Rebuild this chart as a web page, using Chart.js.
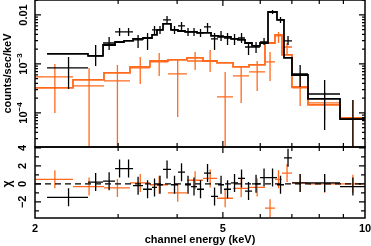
<!DOCTYPE html>
<html>
<head>
<meta charset="utf-8">
<script src="https://cdn.jsdelivr.net/npm/chart.js@4.4.1/dist/chart.umd.min.js"></script>
<style>
  html, body { margin: 0; padding: 0; background: #fff; }
  #wrap { position: relative; width: 371px; height: 246px; }
  #wrap canvas { position: absolute; left: 0; top: 0; }
</style>
</head>
<body>
<div id="wrap">
  <canvas id="spec" width="371" height="246"></canvas>
  <canvas id="resid" width="371" height="246"></canvas>
</div>
<script>
// black spectrum: bin edges (keV), rate (counts/sec/keV), error range, model, residual (chi)
const blackEdges = [2.121, 2.590, 2.787, 2.955, 3.087, 3.226, 3.387, 3.539, 3.626, 3.734, 3.882,
  4.017, 4.157, 4.280, 4.407, 4.560, 4.719, 4.883, 5.028, 5.202, 5.383, 5.570, 5.763, 5.993,
  6.231, 6.510, 6.736, 7.004, 7.573, 8.853, 10.0];
const blackRate = [8.3e-4, 1.46e-3, 2.68e-3, 4.5e-3, 4.5e-3, 3.09e-3, 3.39e-3, 4.94e-3, 4.94e-3, 7.91e-3,
  4.94e-3, 5.97e-3, 4.5e-3, 4.5e-3, 4.29e-3, 5.69e-3, 3.24e-3, 3.73e-3, 3.39e-3, 3.24e-3,
  3.39e-3, 2.22e-3, 2.22e-3, 2.81e-3, 1.15e-2, 7.91e-3, 2.95e-3, 6.25e-4, 2.44e-4, 7.5e-5];
const blackRateHi = [1.39e-3, 2.44e-3, 3.56e-3, 5.43e-3, 5.43e-3, 3.91e-3, 4.29e-3, 5.97e-3, 5.97e-3, 9.54e-3,
  5.97e-3, 7.2e-3, 5.43e-3, 5.43e-3, 5.18e-3, 6.87e-3, 4.29e-3, 4.71e-3, 4.29e-3, 4.09e-3,
  4.29e-3, 2.81e-3, 2.81e-3, 3.39e-3, 1.265e-2, 9.1e-3, 3.73e-3, 9.55e-4, 4.72e-4, 1.84e-4];
const blackRateLo = [3.09e-4, 9.1e-4, 1.93e-3, 3.73e-3, 3.73e-3, 2.12e-3, 1.93e-3, 4.09e-3, 4.09e-3, 6.55e-3,
  4.09e-3, 4.94e-3, 3.73e-3, 3.73e-3, 3.56e-3, 4.5e-3, 1.93e-3, 2.95e-3, 2.44e-3, 2.44e-3,
  2.68e-3, 1.53e-3, 1.68e-3, 2.44e-3, 1.048e-2, 6.87e-3, 2.44e-3, 3.39e-4, 4.5e-5, 1e-5];
const blackModel = [1.6e-3, 1.46e-3, 2.44e-3, 2.81e-3, 2.95e-3, 3.24e-3, 3.39e-3, 3.91e-3, 4.94e-3, 6.55e-3,
  4.94e-3, 4.71e-3, 4.5e-3, 4.5e-3, 4.29e-3, 4.29e-3, 3.73e-3, 3.56e-3, 3.56e-3, 3.24e-3,
  3.09e-3, 2.68e-3, 2.33e-3, 2.68e-3, 1.15e-2, 7.91e-3, 1.33e-3, 5.96e-4, 1.93e-4, 7.5e-5];
const blackChi = [-1.5, 0.2, 0.3, 1.7, 1.7, -0.2, -0.6, -0.4, -0.1, 1.6,
  -0.1, 1.3, -0.1, -0.3, -0.6, 1.2, -1.4, -0.1, -0.6, 0.1,
  0.6, -0.8, 0.0, 0.7, 0.7, -0.1, 2.9, 0.1, 0.1, -0.3];

// orange spectrum
const orangeEdges = [2.0, 2.407, 2.800, 3.179, 3.504, 3.826, 4.197, 4.538, 4.859, 5.253,
  5.680, 6.140, 6.447, 6.671, 7.004, 7.573, 8.853, 10.0];
const orangeRate = [5.43e-4, 3.56e-4, 4.5e-4, 8.29e-4, 1.1e-3, 6.25e-4, 1.15e-3, 1.15e-3, 2.12e-4,
  5.69e-4, 6.87e-4, 1.1e-3, 3.73e-3, 2.22e-3, 3.24e-4, 1.6e-4, 7.9e-5];
const orangeRateHi = [1.0e-3, 8.29e-4, 9.55e-4, 1.39e-3, 1.68e-3, 1.21e-3, 1.76e-3, 1.93e-3, 6.87e-4,
  9.1e-4, 1.15e-3, 1.76e-3, 4.5e-3, 2.68e-3, 5.69e-4, 2.68e-4, 1.84e-4];
const orangeRateLo = [1.0e-4, 1e-5, 1e-5, 3.91e-4, 5.69e-4, 8.3e-5, 7.54e-4, 6.87e-4, 1e-5,
  1.6e-4, 2.81e-4, 4.5e-4, 2.68e-3, 1.53e-3, 1.39e-4, 7.2e-5, 1e-5];
const orangeModel = [3.24e-4, 4.72e-4, 6.55e-4, 8.69e-4, 1.15e-3, 1.21e-3, 1.33e-3, 1.15e-3, 1.05e-3,
  8.69e-4, 9.55e-4, 2.68e-3, 3.91e-3, 1.53e-3, 3.39e-4, 1.46e-4, 7.9e-5];
const orangeChi = [0.5, -0.3, -0.45, 0.1, -0.1, -1.0, 0.4, 0.6, -1.6, -0.5, -0.4, -2.7, 0.5, 1.2, 0.1, 0.0, 0.0];

const chiErr = 1;

// axes
const xRange = [2, 10];
const xTickValues = [2, 5, 10];
const xTickLabels = ['2', '5', '10'];
const rateRange = [2.02e-5, 2.02e-2];
const rateTickValues = [1e-2, 1e-3, 1e-4];
const rateTickLabels = [['0.01', ''], ['10', '\u22123'], ['10', '\u22124']];
const chiRange = [-3.8, 4.1];
const chiTickValues = [4, 2, 0, -2];
const chiTickLabels = ['4', '2', '0', '\u22122'];

const BLACK = '#000000';
const ORANGE = '#ff6a1c';
const FONT = '"Liberation Sans", Arial, Helvetica, sans-serif';

// error crosses: horizontal bar over the bin, vertical bar at bin centre
function crossPoints(edges, y, lo, hi) {
  const pts = [];
  for (let i = 0; i < y.length; i++) {
    const c = (edges[i] + edges[i + 1]) / 2;
    pts.push({x: edges[i], y: y[i]}, {x: edges[i + 1], y: y[i]}, {x: c, y: null});
    pts.push({x: c, y: lo[i]}, {x: c, y: hi[i]}, {x: c, y: null});
  }
  return pts;
}

// histogram style model
function stepPoints(edges, y) {
  const pts = y.map((v, i) => ({x: edges[i], y: v}));
  pts.push({x: edges[edges.length - 1], y: y[y.length - 1]});
  return pts;
}

function vText(ctx, text, x, y) {
  ctx.save();
  ctx.translate(x, y);
  ctx.rotate(-Math.PI / 2);
  ctx.textAlign = 'center';
  ctx.textBaseline = 'middle';
  ctx.fillText(text, 0, 0);
  ctx.restore();
}

// rotated label with optional superscript
function vPow(ctx, base, exp, x, y) {
  ctx.save();
  ctx.translate(x, y);
  ctx.rotate(-Math.PI / 2);
  ctx.textBaseline = 'alphabetic';
  ctx.textAlign = 'left';
  ctx.font = 'bold 11px ' + FONT;
  const wb = ctx.measureText(base).width;
  ctx.font = 'bold 8px ' + FONT;
  const we = exp ? ctx.measureText(exp).width : 0;
  const x0 = -(wb + we) / 2;
  ctx.font = 'bold 11px ' + FONT;
  ctx.fillText(base, x0, 4);
  if (exp) {
    ctx.font = 'bold 8px ' + FONT;
    ctx.fillText(exp, x0 + wb, -1);
  }
  ctx.restore();
}

function xTicks(ctx, x, a) {
  for (let e = 3; e <= 9; e++) {
    const px = x.getPixelForValue(e);
    const len = e === 5 ? 6 : 4;
    ctx.moveTo(px, a.top); ctx.lineTo(px, a.top + len);
    ctx.moveTo(px, a.bottom); ctx.lineTo(px, a.bottom - len);
  }
}

const specAxes = {
  id: 'specAxes',
  afterDraw(chart) {
    const {ctx, chartArea: a, scales: {x, y}} = chart;
    ctx.save();
    ctx.strokeStyle = BLACK;
    ctx.lineWidth = 1.2;
    ctx.beginPath();
    xTicks(ctx, x, a);
    for (let d = -5; d <= -2; d++) {
      for (let k = 1; k <= 9; k++) {
        const v = k * Math.pow(10, d);
        if (v < rateRange[0] || v > rateRange[1]) continue;
        const py = y.getPixelForValue(v);
        const len = k === 1 ? 6 : 3;
        ctx.moveTo(a.left, py); ctx.lineTo(a.left + len, py);
        ctx.moveTo(a.right, py); ctx.lineTo(a.right - len, py);
      }
    }
    ctx.stroke();
    ctx.lineWidth = 1.5;
    ctx.strokeRect(a.left, a.top, a.right - a.left, a.bottom - a.top);
    ctx.fillStyle = BLACK;
    rateTickValues.forEach((v, i) => {
      vPow(ctx, rateTickLabels[i][0], rateTickLabels[i][1], 23, y.getPixelForValue(v));
    });
    ctx.font = 'bold 11px ' + FONT;
    vText(ctx, 'counts/sec/keV', 8, (a.top + a.bottom) / 2);
    ctx.restore();
  }
};

const residAxes = {
  id: 'residAxes',
  afterDraw(chart) {
    const {ctx, chartArea: a, scales: {x, y}} = chart;
    ctx.save();
    ctx.strokeStyle = BLACK;
    ctx.lineWidth = 1.2;
    ctx.beginPath();
    xTicks(ctx, x, a);
    for (let c = -3; c <= 4; c++) {
      const py = y.getPixelForValue(c);
      const len = c % 2 === 0 ? 6 : 4;
      ctx.moveTo(a.left, py); ctx.lineTo(a.left + len, py);
      ctx.moveTo(a.right, py); ctx.lineTo(a.right - len, py);
    }
    ctx.stroke();
    ctx.lineWidth = 1.5;
    ctx.strokeRect(a.left, a.top, a.right - a.left, a.bottom - a.top);
    ctx.fillStyle = BLACK;
    ctx.font = 'bold 11px ' + FONT;
    chiTickValues.forEach((v, i) => vText(ctx, chiTickLabels[i], 23, y.getPixelForValue(v)));
    ctx.textAlign = 'center';
    ctx.textBaseline = 'middle';
    xTickValues.forEach((v, i) => ctx.fillText(xTickLabels[i], x.getPixelForValue(v), 229));
    ctx.fillText('channel energy (keV)', (a.left + a.right) / 2, 240);
    ctx.font = 'bold 12px ' + FONT;
    vText(ctx, '\u03c7', 8, y.getPixelForValue(0));
    ctx.restore();
  }
};

const baseOptions = (padding, yScale) => ({
  responsive: false,
  animation: false,
  devicePixelRatio: 1,
  events: [],
  layout: {padding},
  plugins: {legend: {display: false}, tooltip: {enabled: false}},
  elements: {point: {radius: 0}, line: {tension: 0}},
  scales: {
    x: {type: 'logarithmic', min: xRange[0], max: xRange[1], display: false},
    y: Object.assign({display: false}, yScale)
  }
});

new Chart(document.getElementById('spec'), {
  type: 'line',
  data: {
    datasets: [
      {data: stepPoints(blackEdges, blackModel), borderColor: BLACK, borderWidth: 1.8, stepped: true},
      {data: crossPoints(blackEdges, blackRate, blackRateLo, blackRateHi), borderColor: BLACK, borderWidth: 1.3},
      {data: stepPoints(orangeEdges, orangeModel), borderColor: ORANGE, borderWidth: 1.8, stepped: true},
      {data: crossPoints(orangeEdges, orangeRate, orangeRateLo, orangeRateHi), borderColor: ORANGE, borderWidth: 1.3}
    ]
  },
  options: baseOptions({left: 35, right: 6, top: 0, bottom: 99},
    {type: 'logarithmic', min: rateRange[0], max: rateRange[1]}),
  plugins: [specAxes]
});

new Chart(document.getElementById('resid'), {
  type: 'line',
  data: {
    datasets: [
      {data: [{x: xRange[0], y: 0}, {x: xRange[1], y: 0}], borderColor: BLACK, borderWidth: 1.2, borderDash: [6, 4]},
      {data: crossPoints(blackEdges, blackChi, blackChi.map(c => c - chiErr), blackChi.map(c => c + chiErr)),
        borderColor: BLACK, borderWidth: 1.3},
      {data: crossPoints(orangeEdges, orangeChi, orangeChi.map(c => c - chiErr), orangeChi.map(c => c + chiErr)),
        borderColor: ORANGE, borderWidth: 1.3}
    ]
  },
  options: baseOptions({left: 35, right: 6, top: 147, bottom: 28},
    {type: 'linear', min: chiRange[0], max: chiRange[1]}),
  plugins: [residAxes]
});
</script>
</body>
</html>
